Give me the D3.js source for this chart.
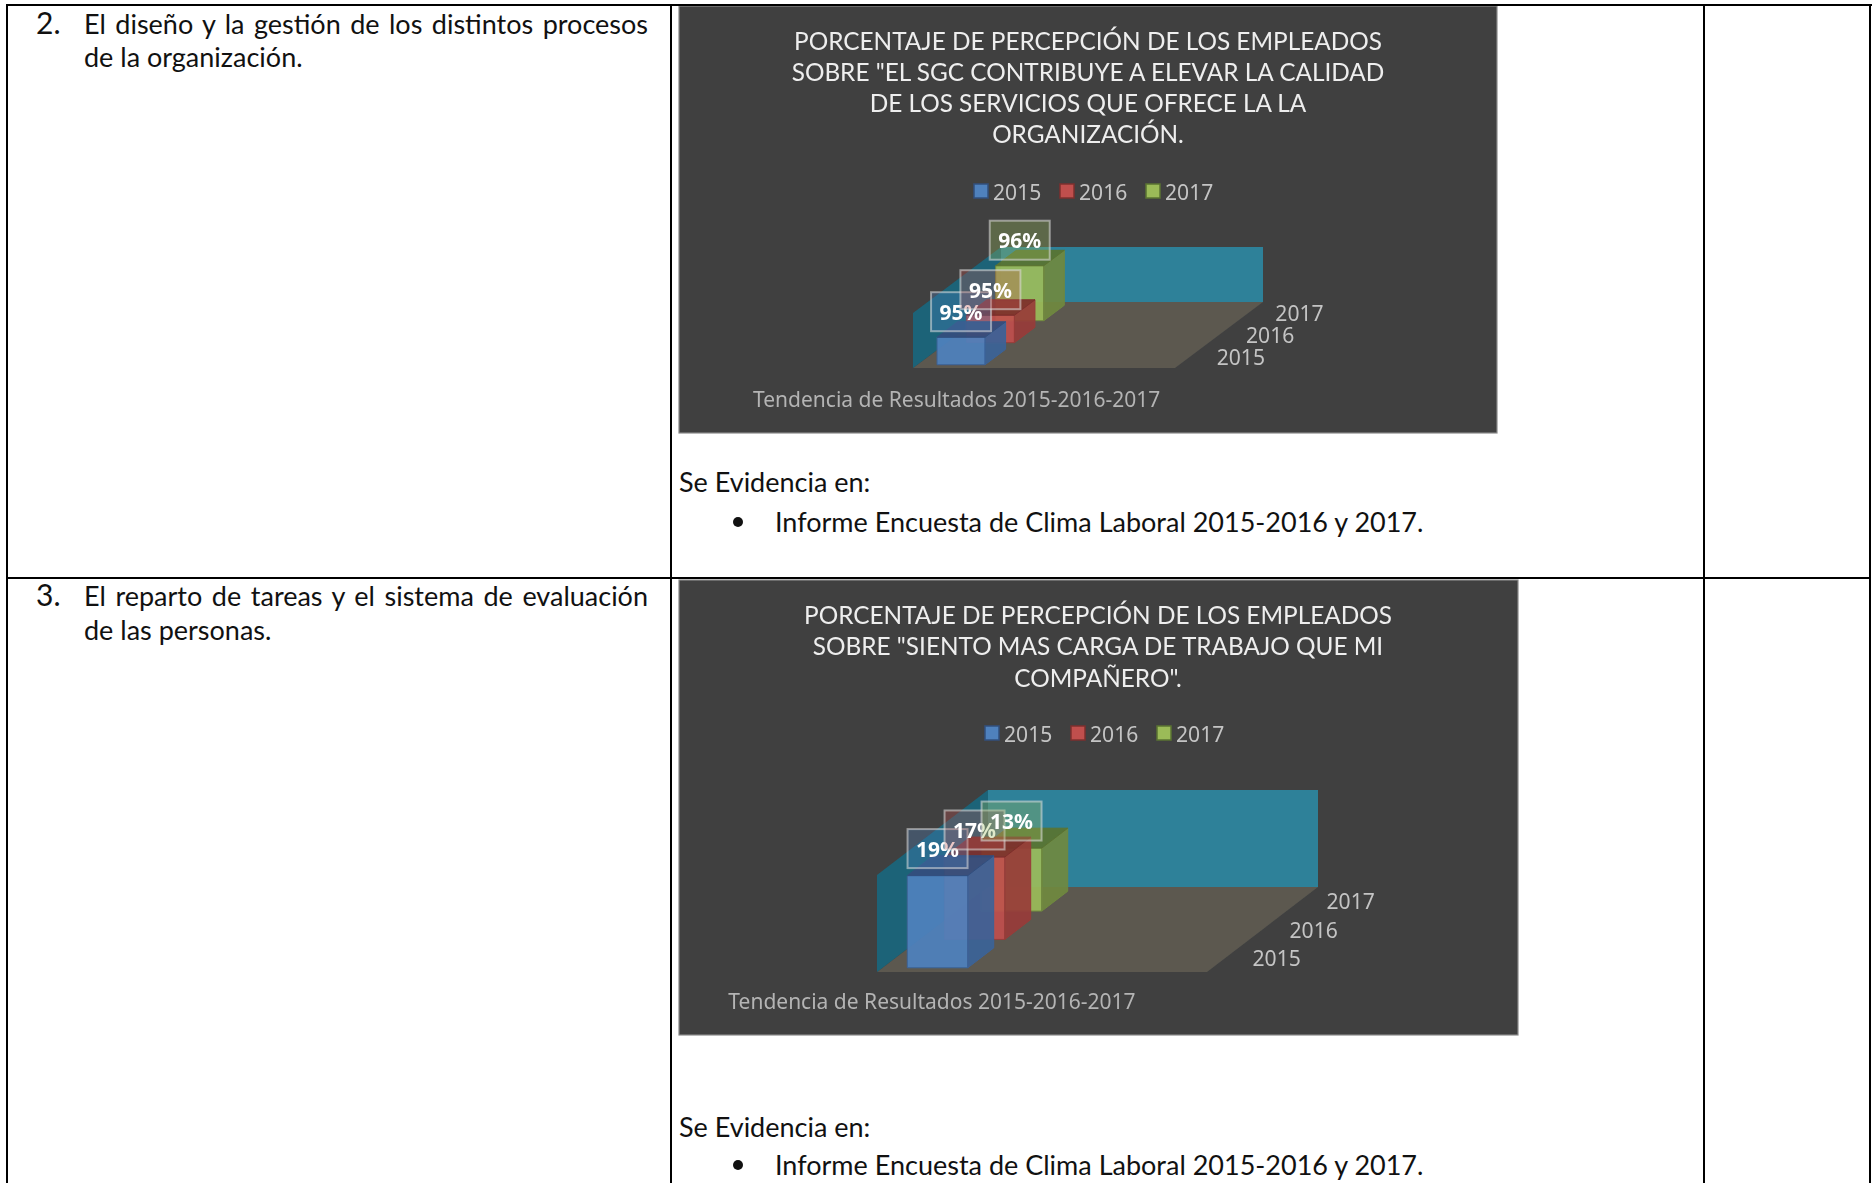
<!DOCTYPE html>
<html><head><meta charset="utf-8">
<script src="https://cdn.jsdelivr.net/npm/d3@7"></script>
<style>html,body{margin:0;padding:0;background:#fff;overflow:hidden}svg{display:block}</style>
</head><body><svg id="c" width="1872" height="1183"></svg>
<script>
const years = ["2015","2016","2017"];
const colors = ["#4f81bd","#c0504d","#9bbb59"];
const sideColors = ["#3c6398","#983c39","#70893f"];
const topColors = ["#324f7e","#7e2f2c","#5a7332"];
const categoryLabel = "Tendencia de Resultados 2015-2016-2017";
const values1 = [95,95,96];
const values2 = [19,17,13];
const title1 = ["PORCENTAJE DE PERCEPCIÓN DE LOS EMPLEADOS","SOBRE \"EL SGC CONTRIBUYE A ELEVAR LA CALIDAD","DE LOS SERVICIOS QUE OFRECE LA LA","ORGANIZACIÓN."];
const title2 = ["PORCENTAJE DE PERCEPCIÓN DE LOS EMPLEADOS","SOBRE \"SIENTO MAS CARGA DE TRABAJO QUE MI","COMPAÑERO\"."];
const row2Lines = ["El diseño y la gestión de los distintos procesos","de la organización."];
const row3Lines = ["El reparto de tareas y el sistema de evaluación","de las personas."];
const evidence = "Se Evidencia en:";
const evidenceItem = "Informe Encuesta de Clima Laboral 2015-2016 y 2017.";

const svg = d3.select("#c");
const defs = svg.append("defs");
defs.append("filter").attr("id","soft").append("feGaussianBlur").attr("stdDeviation",0.5);
const bf = "Lato, 'Open Sans', sans-serif";
const cf = "'Noto Sans', 'Open Sans', sans-serif";

function txt(g,s,x,y,o={}){
  return g.append("text").attr("x",x).attr("y",y).attr("dominant-baseline","central")
    .attr("font-family",o.f||bf).attr("font-size",o.s||27).attr("fill",o.c||"#111")
    .attr("font-weight",o.w||400).attr("text-anchor",o.a||"start").text(s);
}
function squeezed(g,s,x,y,o,factor){
  const t = txt(g,s,x,y,o);
  t.attr("textLength",t.node().getComputedTextLength()*factor).attr("lengthAdjust","spacingAndGlyphs");
  return t;
}
function justified(g,s,x,y,width){
  const t = txt(g,s,x,y);
  const gaps = s.split(" ").length-1;
  const extra = (width - t.node().getComputedTextLength())/gaps;
  t.attr("word-spacing",extra);
}
const tg = svg.append("g");
txt(tg,"2.",36,22,{s:30});
justified(tg,row2Lines[0],84,23,564);
txt(tg,row2Lines[1],84,56);
txt(tg,"3.",36,594,{s:30});
justified(tg,row3Lines[0],84,595,564);
txt(tg,row3Lines[1],84,629);
[[481,521],[1126,1164]].forEach(([a,b])=>{
  txt(tg,evidence,679,a);
  tg.append("circle").attr("cx",738).attr("cy",b+1).attr("r",5).attr("fill","#111");
  txt(tg,evidenceItem,775,b);
});

function chart(c){
  const g = svg.append("g").attr("filter","url(#soft)");
  g.append("rect").attr("x",c.box[0]).attr("y",c.box[1]).attr("width",c.box[2]-c.box[0]).attr("height",c.box[3]-c.box[1])
    .attr("fill","#404040").attr("stroke","#8a8a8a").attr("stroke-width",1.2);
  c.title.forEach((l,i)=>squeezed(g,l,c.titleX,c.titleY+i*c.titleStep,{f:bf,s:25.5,c:"#eeeeee",a:"middle"},0.955));
  years.forEach((y,i)=>{
    g.append("rect").attr("x",c.legendX[i]).attr("y",c.legendY-7).attr("width",14).attr("height",14)
      .attr("fill",colors[i]).attr("stroke",topColors[i]).attr("stroke-width",1.5);
    squeezed(g,y,c.legendX[i]+19,c.legendY,{f:cf,s:22,c:"#c4c4c4"},0.96);
  });
  const [x0,y0] = c.origin;
  const xDomain = [categoryLabel,"_a","_b"];
  const x = d3.scaleBand().domain(xDomain).range([0,c.floorW]).paddingInner(0.45).paddingOuter(0.225);
  const xSlot = d3.scaleBand().domain(xDomain).range([0,c.floorW]);
  const z = d3.scaleBand().domain(years).range([0,1]).paddingInner(0.3).paddingOuter(0.15);
  const zMid = d3.scalePoint().domain(years).range([0,1]).padding(0.5);
  const v = d3.scaleLinear().domain(c.domain).range([0,c.wallH]);
  const P = (sx,zz,h)=>[x0+sx+zz*c.dx, y0+zz*c.dy-h];
  const poly = (pts,fill,op,stroke)=>g.append("polygon").attr("points",pts.map(p=>p.join(",")).join(" "))
      .attr("fill",fill).attr("fill-opacity",op).attr("stroke",stroke||"none").attr("stroke-width",1);
  const W=c.floorW,H=c.wallH;
  poly([P(0,0,0),P(W,0,0),P(W,1,0),P(0,1,0)],"#5b5850",1);
  poly([P(0,1,0),P(W,1,0),P(W,1,H),P(0,1,H)],"#2e8199",1);
  poly([P(0,0,0),P(0,1,0),P(0,1,H),P(0,0,H)],"#1b6478",1);
  const order = years.map((y,i)=>i).reverse();
  const xb = x(categoryLabel), bw = x.bandwidth(), zd = z.bandwidth();
  order.forEach(i=>{
    const zs = z(years[i]), h = v(c.values[i]);
    poly([P(xb,zs,0),P(xb+bw,zs,0),P(xb+bw,zs,h),P(xb,zs,h)],colors[i],0.93,sideColors[i]);
    poly([P(xb+bw,zs,0),P(xb+bw,zs+zd,0),P(xb+bw,zs+zd,h),P(xb+bw,zs,h)],sideColors[i],0.93,sideColors[i]);
    poly([P(xb,zs,h),P(xb+bw,zs,h),P(xb+bw,zs+zd,h),P(xb,zs+zd,h)],topColors[i],0.93,topColors[i]);
  });
  years.forEach((y,i)=>{
    const zs=z(y), h=v(c.values[i]), p=P(xb+bw/2,zs,h);
    const cx=p[0], cy=p[1]-c.labelUp;
    g.append("rect").attr("x",cx-30).attr("y",cy-19.5).attr("width",60).attr("height",39)
      .attr("fill",colors[i]).attr("fill-opacity",0.32).attr("stroke","#e0e0e0").attr("stroke-opacity",0.55).attr("stroke-width",2);
    txt(g,c.values[i]+"%",cx,cy,{f:cf,s:21,w:700,c:"#fff",a:"middle"});
  });
  years.forEach(y=>{
    const p=P(W,zMid(y),0);
    squeezed(g,y,p[0]+27,p[1]-1,{f:cf,s:22,c:"#c4c4c4"},0.96);
  });
  const lp = P(xSlot(categoryLabel)+xSlot.bandwidth()/2,0,0);
  txt(g,categoryLabel,lp[0],c.catY,{f:cf,s:21,c:"#b4b4b4",a:"middle"});
}
chart({box:[679,6,1497,433],title:title1,titleX:1088,titleY:40,titleStep:31,
  legendX:[974,1060,1146],legendY:191,origin:[913,368],floorW:262,dx:88,dy:-66,wallH:55,domain:[94,96],values:values1,catY:399,labelUp:25.5});
chart({box:[679,580,1518,1035],title:title2,titleX:1098,titleY:613.5,titleStep:31.5,
  legendX:[985,1071,1157],legendY:733,origin:[877,972],floorW:330,dx:111,dy:-85,wallH:97,domain:[0,20],values:values2,catY:1001,labelUp:27});

const rules = [[7,5,1872,5],[7,578,1870,578],[7,4,7,1183],[671,4,671,1183],[1704,4,1704,1183],[1870,4,1870,1183]];
svg.selectAll("line.rule").data(rules).join("line").attr("class","rule")
  .attr("x1",d=>d[0]).attr("y1",d=>d[1]).attr("x2",d=>d[2]).attr("y2",d=>d[3])
  .attr("stroke","#000").attr("stroke-width",2);
</script></body></html>
